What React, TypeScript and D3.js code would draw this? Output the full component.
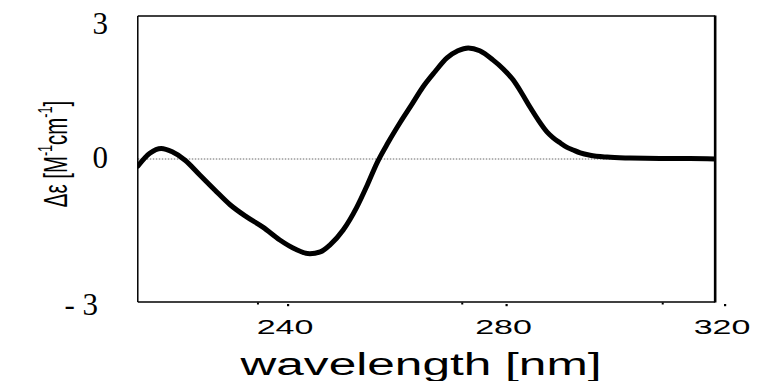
import React from "react";
import * as d3 from "d3";

// CD spectrum: wavelength (nm) and molar ellipticity difference Δε (M^-1 cm^-1)
const wavelengths = [
  212.5, 214.7, 216.8, 218.8, 221.1, 223.9, 226.6, 229.4, 232.5, 235.4,
  238.5, 241.3, 244.0, 245.9, 247.7, 250.1, 252.6, 254.5, 256.3, 258.3,
  260.5, 262.7, 264.7, 266.9, 269.1, 271.1, 273.0, 275.1, 277.5, 279.4,
  281.2, 282.8, 284.3, 285.8, 287.4, 288.5, 289.8, 291.0, 292.2, 293.5,
  295.3, 298.4, 302.6, 308.1, 313.6, 318.2,
];
const deltaEpsilon = [
  -0.15, 0.12, 0.22, 0.15, -0.02, -0.34, -0.65, -0.96, -1.22, -1.43,
  -1.7, -1.89, -1.99, -1.95, -1.8, -1.49, -1.01, -0.55, -0.08, 0.34,
  0.76, 1.15, 1.51, 1.83, 2.12, 2.27, 2.33, 2.27, 2.08, 1.89,
  1.66, 1.38, 1.09, 0.82, 0.57, 0.45, 0.34, 0.25, 0.19, 0.13,
  0.08, 0.04, 0.02, 0.01, 0.01, 0.0,
];

const xTicks = [240, 280, 320];
const xMinorTicks = [234.5, 271.9, 308.6];
const yTicks = [3, 0, -3];
const yTickLabels = ["3", "0", "- 3"];

const W = 757;
const H = 381;

export default function App() {
  const x = d3.scaleLinear().domain([240, 320]).range([288, 725]);
  const y = d3.scaleLinear().domain([-3, 3]).range([302, 16]);

  const xLeft = x(212.5);
  const xRight = x(318.2);

  const line = d3
    .line<number>()
    .x((_, i) => x(wavelengths[i]))
    .y((d) => y(d))
    .curve(d3.curveMonotoneX);

  const pathD = line(deltaEpsilon) || "";

  return (
    <svg
      width={W}
      height={H}
      style={{ position: "absolute", left: 0, top: 0, background: "#fff" }}
    >
      <defs>
        <clipPath id="plot-clip">
          <rect x={xLeft} y={y(3)} width={xRight - xLeft} height={y(-3) - y(3)} />
        </clipPath>
      </defs>

      {/* zero reference line */}
      <line
        x1={xLeft}
        x2={xRight}
        y1={y(0)}
        y2={y(0)}
        stroke="#666"
        strokeWidth={1}
        strokeDasharray="1.5,1.5"
      />

      {/* spectrum */}
      <path
        d={pathD}
        fill="none"
        stroke="#000"
        strokeWidth={5}
        strokeLinejoin="round"
        strokeLinecap="round"
        clipPath="url(#plot-clip)"
      />

      {/* frame */}
      <line x1={xLeft} x2={xRight} y1={y(3)} y2={y(3)} stroke="#000" strokeWidth={1.3} />
      <line x1={xLeft} x2={xRight} y1={y(-3)} y2={y(-3)} stroke="#000" strokeWidth={1.3} />
      <line x1={xLeft} x2={xLeft} y1={y(3)} y2={y(-3)} stroke="#000" strokeWidth={1.5} />
      <line x1={xRight} x2={xRight} y1={y(3) - 0.5} y2={y(-3) + 0.5} stroke="#000" strokeWidth={2.6} />

      {/* x ticks */}
      {xTicks.map((t) => (
        <rect key={"M" + t} x={x(t) - 1} y={y(-3) + 2} width={2.2} height={2.2} fill="#000" />
      ))}
      {xMinorTicks.map((t) => (
        <rect key={"m" + t} x={x(t) - 1} y={y(-3) + 0.5} width={2} height={2} fill="#000" />
      ))}
      {xTicks.map((t) => (
        <text
          key={"L" + t}
          transform={`translate(${x(t) - 3},334) scale(1.62,1)`}
          textAnchor="middle"
          fontFamily="'Liberation Sans', Arial, sans-serif"
          fontSize={21}
          fill="#000"
        >
          {t}
        </text>
      ))}

      {/* x-axis title */}
      <text
        transform={`translate(421,375) scale(1.6,1)`}
        textAnchor="middle"
        fontFamily="'Liberation Sans', Arial, sans-serif"
        fontSize={31}
        fill="#000"
      >
        wavelength [nm]
      </text>

      {/* y tick labels */}
      {yTicks.map((v, i) => (
        <text
          key={"y" + v}
          x={108 + (v < 0 ? -10 : 0)}
          y={y(v) + (v > 0 ? 18 : v < 0 ? 13 : 9)}
          textAnchor="end"
          fontFamily="'Liberation Serif', 'Times New Roman', serif"
          fontSize={31}
          fill="#000"
        >
          {yTickLabels[i]}
        </text>
      ))}

      {/* y-axis title */}
      <text
        transform="translate(67,154) rotate(-90) scale(0.6,1)"
        textAnchor="middle"
        fontFamily="'Liberation Sans', Arial, sans-serif"
        fontSize={34}
        fill="#000"
      >
        Δε [M
        <tspan fontSize={21} dy={-15}>-1</tspan>
        <tspan dy={15}>cm</tspan>
        <tspan fontSize={21} dy={-15}>-1</tspan>
        <tspan dy={15}>]</tspan>
      </text>
    </svg>
  );
}
